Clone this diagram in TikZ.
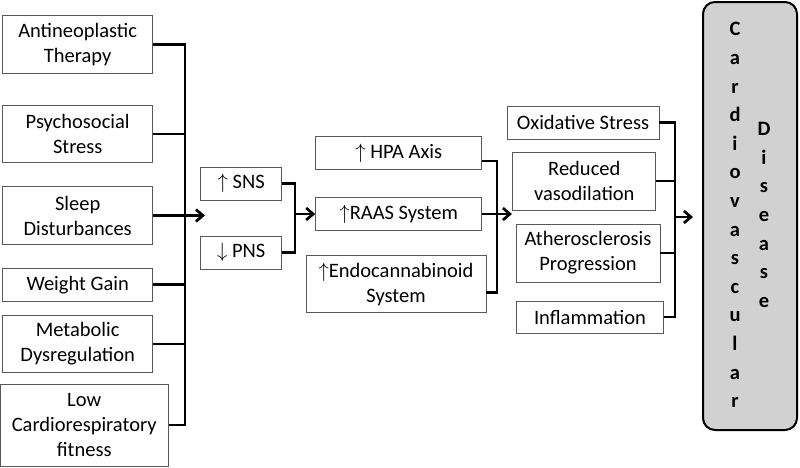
\documentclass[tikz,border=0pt]{standalone}
\usepackage{fontspec}
\setmainfont{Carlito}
\usepackage{tikz}
\usetikzlibrary{arrows.meta}

\begin{document}
\begin{tikzpicture}[x=1pt,y=-1pt,
      box/.style={draw=black!65,line width=0.9pt,fill=white,align=center,inner sep=0pt,
        font=\fontsize{20.5}{25}\selectfont},
      conn/.style={line width=2.7pt,line join=miter},
      arr/.style={conn,-{Straight Barb[length=7pt,width=12pt]}},
      cvdbox/.style={draw,line width=2pt,rounded corners=12pt,fill=black!18,
        minimum width=94pt,minimum height=428pt},
      ltr/.style={align=center,inner sep=0pt,font=\bfseries\fontsize{20.5}{28.6}\selectfont}]
    \useasboundingbox (0,0) rectangle (800,467);
    % risk factors
    \node[box,minimum width=150pt,minimum height=57.5pt] (ant) at (77.7,44.5) {Antineoplastic\\Therapy};
    \node[box,minimum width=150pt,minimum height=57.5pt] (psy) at (77.7,134) {Psychosocial\\Stress};
    \node[box,minimum width=150pt,minimum height=57.5pt] (slp) at (77.7,215.5) {Sleep\\Disturbances};
    \node[box,minimum width=150pt,minimum height=33pt] (wgt) at (77.7,284.7) {Weight Gain};
    \node[box,minimum width=150pt,minimum height=57.5pt] (met) at (77.7,344) {Metabolic\\Dysregulation};
    \node[box,minimum width=168pt,minimum height=82pt] (low) at (84.2,425) {Low\\Cardiorespiratory\\fitness};
    % autonomic
    \node[box,minimum width=81pt,minimum height=33pt] (sns) at (241.2,183.7) {$\uparrow$ SNS};
    \node[box,minimum width=81pt,minimum height=33pt] (pns) at (241.2,252.5) {$\downarrow$ PNS};
    % neurohormonal
    \node[box,minimum width=166pt,minimum height=33pt] (hpa) at (398.7,153) {$\uparrow$ HPA Axis};
    \node[box,minimum width=166pt,minimum height=33pt] (raas) at (398.7,214) {$\uparrow$RAAS System};
    \node[box,minimum width=180pt,minimum height=57pt] (endo) at (396,284.2) {$\uparrow$Endocannabinoid\\System};
    % vascular
    \node[box,minimum width=152pt,minimum height=33pt] (oxi) at (583,122.5) {Oxidative Stress};
    \node[box,minimum width=143pt,minimum height=58pt] (red) at (584.3,181) {Reduced\\vasodilation};
    \node[box,minimum width=144pt,minimum height=58pt] (ath) at (588,253) {Atherosclerosis\\Progression};
    \node[box,minimum width=146.5pt,minimum height=32pt] (inf) at (590,317) {Inflammation};
    % outcome
    \node[cvdbox] (cvd) at (750,216) {};
    \node[ltr] (cardio) at (735,215) {C\\a\\r\\d\\i\\o\\v\\a\\s\\c\\u\\l\\a\\r};
    \node[ltr] (dis) at (764,215) {D\\i\\s\\e\\a\\s\\e};

    \coordinate (busL) at (185,0);
    \coordinate (busM) at (295,0);
    \coordinate (busR) at (497,0);
    \coordinate (busC) at (675,0);
    \coordinate (tipL) at (205,215.5);
    \coordinate (tipR) at (512,214);
    \coordinate (tipC) at (693,217);
    \coordinate (hpaO) at ([yshift=-8pt]hpa.east);
    \coordinate (endoO) at ([yshift=-8pt]endo.east);

    \draw[conn] (ant.east) -| (low.east -| busL) -- (low.east);
    \foreach \b in {psy,wgt,met} \draw[conn] (\b.east) -- (\b.east -| busL);
    \draw[arr] (slp.east) -- (tipL);

    \draw[conn] (sns.east) -| (pns.east -| busM) -- (pns.east);
    \draw[arr] (busM |- raas.west) -- (raas.west);

    \draw[conn] (hpaO) -| (endoO -| busR) -- (endoO);
    \draw[arr] (raas.east) -- (tipR);

    \draw[conn] (oxi.east) -| (inf.east -| busC) -- (inf.east);
    \foreach \b in {red,ath} \draw[conn] (\b.east) -- (\b.east -| busC);
    \draw[arr] (tipC -| busC) -- (tipC);
  \end{tikzpicture}
\end{document}
